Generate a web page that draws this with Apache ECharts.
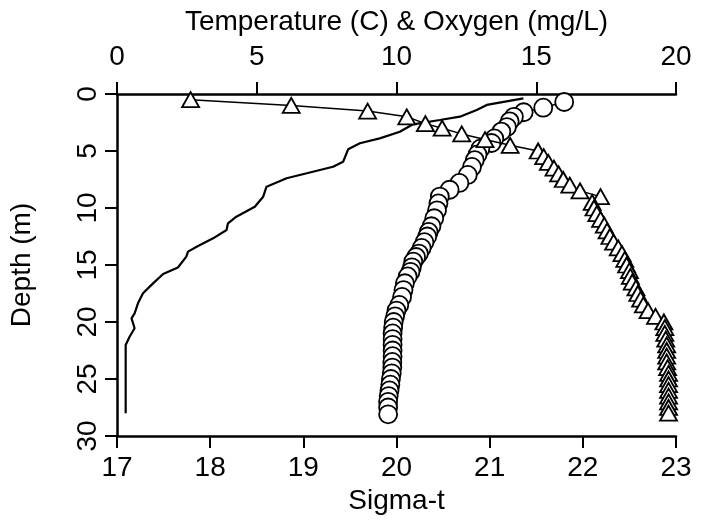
<!DOCTYPE html>
<html>
<head>
<meta charset="utf-8">
<script src="https://cdn.jsdelivr.net/npm/echarts@6/dist/echarts.min.js"></script>
<style>html,body{margin:0;padding:0;background:#fff;}#c{width:705px;height:529px;}</style>
</head>
<body>
<div id="c"></div>
<script>
// Temperature (C) profile: depth (m) and value
const tempDepth = [0.38,0.96,1.40,1.99,2.28,2.66,3.31,3.89,4.32,4.85,5.94,6.38,7.39,8.13,9.01,9.89,10.76,11.34,11.93,12.66,13.33,13.83,14.27,15.22,15.79,16.61,17.48,18.36,19.24,19.68,20.55,21.29,22.02,28.0];
const tempVal   = [14.54,13.23,12.87,12.27,11.55,10.59,10.12,9.40,8.69,8.27,8.09,7.73,6.07,5.35,5.23,4.93,4.27,3.97,3.92,3.44,2.90,2.54,2.48,2.18,1.65,1.29,0.93,0.75,0.63,0.52,0.63,0.45,0.31,0.31];

// Oxygen (mg/L) profile
const oxyDepth = [0.7,1.2,1.6,2.0,2.4,2.9,3.3,3.9,4.3,4.8,5.3,5.8,6.4,7.1,7.8,8.4,9.0,9.6,10.2,10.9,11.6,12.1,12.5,13.0,13.5,14.0,14.3,14.7,15.2,15.6,16.0,16.6,17.2,17.8,18.5,19.0,19.5,20.0,20.5,21.0,21.5,22.0,22.5,23.0,23.5,24.0,24.5,25.0,25.5,26.0,26.5,27.0,27.5,28.1];
const oxyVal   = [16.0,15.25,14.55,14.2,14.05,13.95,13.75,13.5,13.4,13.0,12.9,12.8,12.7,12.55,12.25,11.9,11.55,11.5,11.45,11.35,11.25,11.15,11.1,11.0,10.9,10.8,10.7,10.6,10.55,10.5,10.4,10.3,10.25,10.2,10.1,10.0,9.95,9.9,9.88,9.86,9.86,9.86,9.86,9.86,9.85,9.85,9.83,9.8,9.78,9.75,9.72,9.7,9.7,9.7];

// Sigma-t profile
const sigDepth = [0.5,1.0,1.5,2.0,2.6,3.0,3.5,4.0,4.5,5.0,5.5,6.0,6.5,7.0,7.5,8.0,8.5,9.0,9.5,10.0,10.5,11.0,11.5,12.0,12.5,13.0,13.5,14.0,14.5,15.0,15.5,16.0,16.5,17.0,17.5,18.0,18.5,19.0,19.5,20.0,20.5,21.0,21.5,22.0,22.5,23.0,23.5,24.0,24.5,25.0,25.5,26.0,26.5,27.0,27.5,28.0];
const sigVal   = [17.79,18.87,19.69,20.11,20.31,20.49,20.70,20.95,21.22,21.52,21.58,21.63,21.69,21.74,21.79,21.86,21.97,22.19,22.10,22.12,22.15,22.19,22.23,22.26,22.29,22.33,22.38,22.42,22.45,22.47,22.50,22.51,22.53,22.57,22.59,22.62,22.65,22.70,22.78,22.87,22.88,22.88,22.89,22.90,22.90,22.90,22.90,22.91,22.92,22.92,22.92,22.92,22.92,22.92,22.92,22.92];

const topTicks = [0,5,10,15,20];
const bottomTicks = [17,18,19,20,21,22,23];
const depthTicks = [0,5,10,15,20,25,30];

const pairs = (xs, ds) => xs.map((v, i) => [v, ds[i]]);
const FONT = 'Liberation Sans, Arial, sans-serif';
const FS = 28;

const chart = echarts.init(document.getElementById('c'), null, {renderer: 'canvas'});
const axisBase = {
  type: 'value',
  axisLine: {show: true, onZero: false, lineStyle: {color: '#000', width: 2.5}},
  axisTick: {show: true, length: 12, lineStyle: {color: '#000', width: 2}},
  splitLine: {show: false},
  axisLabel: {color: '#000', fontFamily: FONT, fontSize: FS},
  nameTextStyle: {color: '#000', fontFamily: FONT, fontSize: FS},
  nameLocation: 'middle'
};
chart.setOption({
  animation: false,
  backgroundColor: '#fff',
  grid: {left: 117, right: 29, top: 94, bottom: 93, containLabel: false},
  xAxis: [
    Object.assign({}, axisBase, {
      position: 'bottom', min: bottomTicks[0], max: bottomTicks[bottomTicks.length-1], interval: 1,
      name: 'Sigma-t', nameGap: 50,
      axisLabel: Object.assign({}, axisBase.axisLabel, {margin: 18})
    }),
    Object.assign({}, axisBase, {
      position: 'top', min: topTicks[0], max: topTicks[topTicks.length-1], interval: 5,
      name: 'Temperature (C) & Oxygen (mg/L)', nameGap: 58,
      axisLabel: Object.assign({}, axisBase.axisLabel, {margin: 23})
    })
  ],
  yAxis: [
    Object.assign({}, axisBase, {
      inverse: true, min: depthTicks[0], max: depthTicks[depthTicks.length-1], interval: 5,
      name: 'Depth (m)', nameGap: 81, nameRotate: 90,
      axisLabel: Object.assign({}, axisBase.axisLabel, {rotate: 90, margin: 15})
    })
  ],
  series: [
    {
      name: 'Temperature', type: 'line', xAxisIndex: 1, yAxisIndex: 0,
      data: pairs(tempVal, tempDepth), showSymbol: false, symbol: 'none',
      lineStyle: {color: '#000', width: 2.2}, z: 2
    },
    {
      name: 'Oxygen', type: 'line', xAxisIndex: 1, yAxisIndex: 0,
      data: pairs(oxyVal, oxyDepth), symbol: 'circle', symbolSize: 18,
      itemStyle: {color: '#fff', borderColor: '#000', borderWidth: 1.8},
      lineStyle: {color: '#000', width: 1.5}, z: 3
    },
    {
      name: 'Sigma-t', type: 'line', xAxisIndex: 0, yAxisIndex: 0,
      data: pairs(sigVal, sigDepth), symbol: 'triangle', symbolSize: [17, 15],
      itemStyle: {color: '#fff', borderColor: '#000', borderWidth: 1.8},
      lineStyle: {color: '#000', width: 1.5}, z: 4
    }
  ]
});
</script>
</body>
</html>
